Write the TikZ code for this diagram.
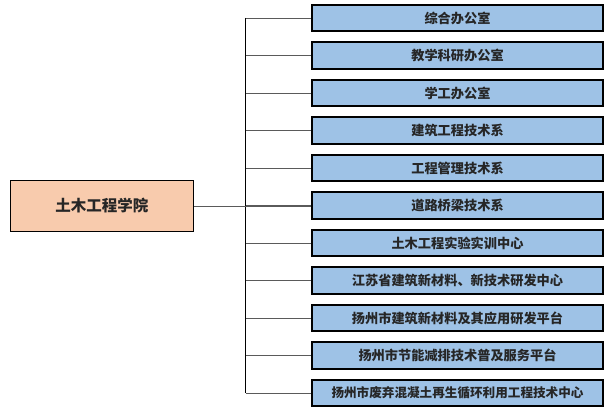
\documentclass[tikz,border=0pt]{standalone}
\usepackage{fontspec}
\newfontfamily\cjk{Noto Sans CJK SC}
\definecolor{boxblue}{RGB}{158,194,230}
\definecolor{boxorange}{RGB}{248,203,173}
\definecolor{linegray}{RGB}{90,90,90}
\begin{document}
\begin{tikzpicture}[x=1pt,y=-1pt,
  unit/.style={draw=black,line width=1.9pt,fill=boxblue,minimum width=291pt,minimum height=26.5pt,inner sep=0pt,font=\cjk\bfseries\fontsize{13.2}{15}\selectfont,text=black!85},
  root/.style={draw=black,line width=1.5pt,fill=boxorange,minimum width=183pt,minimum height=51pt,inner sep=0pt,font=\cjk\bfseries\fontsize{15.5}{18}\selectfont,text=black!85},
  conn/.style={draw=linegray,line width=0.8pt}]
\useasboundingbox (0,0) rectangle (614,412);
\node[root] (root) at (102,206) {土木工程学院};
\foreach \t [count=\i] in {综合办公室,教学科研办公室,学工办公室,建筑工程技术系,工程管理技术系,道路桥梁技术系,土木工程实验实训中心,江苏省建筑新材料、新技术研发中心,扬州市建筑新材料及其应用研发平台,扬州市节能减排技术普及服务平台}{
  \node[unit] (u\i) at (457.5,{18+(\i-1)*37.5}) {\t};
}
\node[unit,font=\cjk\bfseries\fontsize{12.6}{15}\selectfont] (u11) at (457.5,393) {扬州市废弃混凝土再生循环利用工程技术中心};
\coordinate (top) at (245.5,18);
\coordinate (bot) at (245.5,393);
\draw[draw=black,line width=0.8pt] (top) -- (bot);
\foreach \i in {1,...,11}{
  \draw[conn] (245.5,0 |- u\i.west) -- (u\i.west);
}
\draw[conn] (root.east) -- (root.east -| u6.west);
\end{tikzpicture}
\end{document}
